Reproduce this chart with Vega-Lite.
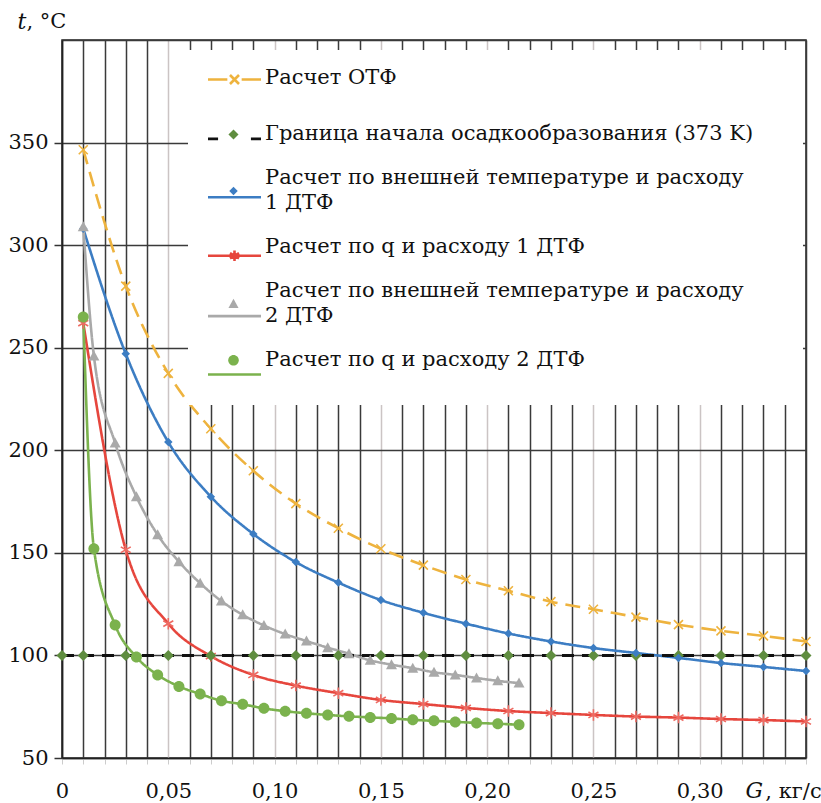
{
  "$schema": "https://vega.github.io/schema/vega-lite/v6.json",
  "width": 744,
  "height": 718,
  "autosize": {"type": "none"},
  "padding": {"left": 62, "top": 40, "right": 15, "bottom": 45},
  "background": "white",
  "config": {
    "view": {"stroke": "#222222", "strokeWidth": 1.5},
    "font": "DejaVu Serif"
  },
  "datasets": {
    "main": [
      {"s": "otf", "g": 0.01, "t": 346.5}, {"s": "otf", "g": 0.03, "t": 280}, {"s": "otf", "g": 0.05, "t": 237.5}, {"s": "otf", "g": 0.07, "t": 210.5}, {"s": "otf", "g": 0.09, "t": 190}, {"s": "otf", "g": 0.11, "t": 174}, {"s": "otf", "g": 0.13, "t": 162}, {"s": "otf", "g": 0.15, "t": 152}, {"s": "otf", "g": 0.17, "t": 144}, {"s": "otf", "g": 0.19, "t": 137}, {"s": "otf", "g": 0.21, "t": 131.5}, {"s": "otf", "g": 0.23, "t": 126.2}, {"s": "otf", "g": 0.25, "t": 122.5}, {"s": "otf", "g": 0.27, "t": 118.7}, {"s": "otf", "g": 0.29, "t": 115}, {"s": "otf", "g": 0.31, "t": 112}, {"s": "otf", "g": 0.33, "t": 109.5}, {"s": "otf", "g": 0.35, "t": 106.8},
      {"s": "border", "g": 0, "t": 100}, {"s": "border", "g": 0.01, "t": 100}, {"s": "border", "g": 0.03, "t": 100}, {"s": "border", "g": 0.05, "t": 100}, {"s": "border", "g": 0.07, "t": 100}, {"s": "border", "g": 0.09, "t": 100}, {"s": "border", "g": 0.11, "t": 100}, {"s": "border", "g": 0.13, "t": 100}, {"s": "border", "g": 0.15, "t": 100}, {"s": "border", "g": 0.17, "t": 100}, {"s": "border", "g": 0.19, "t": 100}, {"s": "border", "g": 0.21, "t": 100}, {"s": "border", "g": 0.23, "t": 100}, {"s": "border", "g": 0.25, "t": 100}, {"s": "border", "g": 0.27, "t": 100}, {"s": "border", "g": 0.29, "t": 100}, {"s": "border", "g": 0.31, "t": 100}, {"s": "border", "g": 0.33, "t": 100}, {"s": "border", "g": 0.35, "t": 100},
      {"s": "ext1", "g": 0.01, "t": 308}, {"s": "ext1", "g": 0.03, "t": 247}, {"s": "ext1", "g": 0.05, "t": 204}, {"s": "ext1", "g": 0.07, "t": 177.4}, {"s": "ext1", "g": 0.09, "t": 159.2}, {"s": "ext1", "g": 0.11, "t": 145.5}, {"s": "ext1", "g": 0.13, "t": 135.5}, {"s": "ext1", "g": 0.15, "t": 127}, {"s": "ext1", "g": 0.17, "t": 120.8}, {"s": "ext1", "g": 0.19, "t": 115.5}, {"s": "ext1", "g": 0.21, "t": 110.7}, {"s": "ext1", "g": 0.23, "t": 106.8}, {"s": "ext1", "g": 0.25, "t": 103.6}, {"s": "ext1", "g": 0.27, "t": 101.2}, {"s": "ext1", "g": 0.29, "t": 98.8}, {"s": "ext1", "g": 0.31, "t": 96.3}, {"s": "ext1", "g": 0.33, "t": 94.4}, {"s": "ext1", "g": 0.35, "t": 92.4},
      {"s": "q1", "g": 0.01, "t": 262}, {"s": "q1", "g": 0.03, "t": 151.5}, {"s": "q1", "g": 0.05, "t": 115.5}, {"s": "q1", "g": 0.07, "t": 99.7}, {"s": "q1", "g": 0.09, "t": 90.5}, {"s": "q1", "g": 0.11, "t": 85.3}, {"s": "q1", "g": 0.13, "t": 81.6}, {"s": "q1", "g": 0.15, "t": 78.3}, {"s": "q1", "g": 0.17, "t": 76.3}, {"s": "q1", "g": 0.19, "t": 74.4}, {"s": "q1", "g": 0.21, "t": 72.9}, {"s": "q1", "g": 0.23, "t": 71.9}, {"s": "q1", "g": 0.25, "t": 71}, {"s": "q1", "g": 0.27, "t": 70.2}, {"s": "q1", "g": 0.29, "t": 69.7}, {"s": "q1", "g": 0.31, "t": 69}, {"s": "q1", "g": 0.33, "t": 68.5}, {"s": "q1", "g": 0.35, "t": 67.8},
      {"s": "ext2", "g": 0.01, "t": 309}, {"s": "ext2", "g": 0.015, "t": 246}, {"s": "ext2", "g": 0.025, "t": 203.5}, {"s": "ext2", "g": 0.035, "t": 177.4}, {"s": "ext2", "g": 0.045, "t": 158.8}, {"s": "ext2", "g": 0.055, "t": 145.7}, {"s": "ext2", "g": 0.065, "t": 135.2}, {"s": "ext2", "g": 0.075, "t": 126.5}, {"s": "ext2", "g": 0.085, "t": 119.8}, {"s": "ext2", "g": 0.095, "t": 114.6}, {"s": "ext2", "g": 0.105, "t": 110.4}, {"s": "ext2", "g": 0.115, "t": 107}, {"s": "ext2", "g": 0.125, "t": 103.8}, {"s": "ext2", "g": 0.135, "t": 100.8}, {"s": "ext2", "g": 0.145, "t": 97.6}, {"s": "ext2", "g": 0.155, "t": 95.5}, {"s": "ext2", "g": 0.165, "t": 93.8}, {"s": "ext2", "g": 0.175, "t": 91.8}, {"s": "ext2", "g": 0.185, "t": 90.5}, {"s": "ext2", "g": 0.195, "t": 89}, {"s": "ext2", "g": 0.205, "t": 87.6}, {"s": "ext2", "g": 0.215, "t": 86.5},
      {"s": "q2", "g": 0.01, "t": 265}, {"s": "q2", "g": 0.015, "t": 152}, {"s": "q2", "g": 0.025, "t": 114.8}, {"s": "q2", "g": 0.035, "t": 99.2}, {"s": "q2", "g": 0.045, "t": 90.5}, {"s": "q2", "g": 0.055, "t": 84.9}, {"s": "q2", "g": 0.065, "t": 81.2}, {"s": "q2", "g": 0.075, "t": 77.9}, {"s": "q2", "g": 0.085, "t": 76.2}, {"s": "q2", "g": 0.095, "t": 74.2}, {"s": "q2", "g": 0.105, "t": 72.8}, {"s": "q2", "g": 0.115, "t": 71.8}, {"s": "q2", "g": 0.125, "t": 71}, {"s": "q2", "g": 0.135, "t": 70.3}, {"s": "q2", "g": 0.145, "t": 69.8}, {"s": "q2", "g": 0.155, "t": 69.3}, {"s": "q2", "g": 0.165, "t": 68.6}, {"s": "q2", "g": 0.175, "t": 68.1}, {"s": "q2", "g": 0.185, "t": 67.6}, {"s": "q2", "g": 0.195, "t": 67.1}, {"s": "q2", "g": 0.205, "t": 66.7}, {"s": "q2", "g": 0.215, "t": 66.2}
    ]
  },
  "encoding": {
    "x": {
      "field": "g", "type": "quantitative",
      "scale": {"domain": [0, 0.35], "nice": false, "zero": false},
      "axis": {
        "values": [0, 0.01, 0.02, 0.03, 0.04, 0.05, 0.06, 0.07, 0.08, 0.09, 0.1, 0.11, 0.12, 0.13, 0.14, 0.15, 0.16, 0.17, 0.18, 0.19, 0.2, 0.21, 0.22, 0.23, 0.24, 0.25, 0.26, 0.27, 0.28, 0.29, 0.3, 0.31, 0.32, 0.33, 0.34, 0.35],
        "grid": true,
        "gridColor": {"condition": {"test": "datum.value > 0.001 && datum.value < 0.34 && round(datum.value*100) % 5 === 0", "value": "#cbc4c4"}, "value": "#3a3a3a"},
        "gridWidth": 1.5,
        "domainColor": "#222222", "domainWidth": 1.5,
        "tickColor": "#cccccc", "tickSize": 6, "tickWidth": 1,
        "labelExpr": "round(datum.value*100) % 5 !== 0 ? '' : (datum.value > 0.34 ? ', кг/с' : (datum.value < 0.001 ? '0' : replace(format(datum.value, '.2f'), '.', ',')))",
        "labelOffset": {"condition": {"test": "datum.value > 0.34", "value": -13}, "value": 0},
        "labelFont": "DejaVu Serif", "labelFontSize": 21, "labelColor": "#111111",
        "labelBaseline": "alphabetic", "labelPadding": 33,
        "labelOverlap": false, "labelFlush": false, "labelBound": false,
        "title": "G", "titleFont": "DejaVu Serif", "titleFontStyle": "italic", "titleFontWeight": "normal", "titleFontSize": 22, "titleColor": "#111111",
        "titleX": 683, "titleY": 39, "titleAlign": "left", "titleBaseline": "alphabetic"
      }
    },
    "y": {
      "field": "t", "type": "quantitative",
      "scale": {"domain": [50, 400], "nice": false, "zero": false},
      "axis": {
        "values": [50, 100, 150, 200, 250, 300, 350, 400],
        "grid": true, "gridColor": "#3a3a3a", "gridWidth": 1.5,
        "domainColor": "#222222", "domainWidth": 1.5,
        "tickColor": {"condition": {"test": "datum.value === 400", "value": "transparent"}, "value": "#333333"},
        "tickSize": 8, "tickWidth": 1.5,
        "labelExpr": "datum.value === 400 ? ', °C' : datum.label",
        "labelAlign": {"condition": {"test": "datum.value === 400", "value": "left"}, "value": "right"},
        "labelPadding": {"condition": {"test": "datum.value === 400", "value": 28}, "value": 6},
        "labelOffset": {"condition": {"test": "datum.value === 400", "value": -19}, "value": 0},
        "labelBaseline": "middle",
        "labelFont": "DejaVu Serif", "labelFontSize": 21, "labelColor": "#111111",
        "labelOverlap": false, "labelFlush": false, "labelBound": false,
        "title": "t", "titleFont": "DejaVu Serif", "titleFontStyle": "italic", "titleFontWeight": "normal", "titleFontSize": 22, "titleColor": "#111111",
        "titleAngle": 0, "titleX": -45, "titleY": -19, "titleAlign": "left", "titleBaseline": "middle"
      }
    }
  },
  "layer": [
    {
      "data": {"name": "main"},
      "transform": [{"filter": "datum.s !== 'border'"}],
      "mark": {"type": "line", "interpolate": "monotone", "strokeWidth": 2.6},
      "encoding": {
        "stroke": {"field": "s", "type": "nominal", "legend": null,
          "scale": {"domain": ["otf", "ext1", "q1", "ext2", "q2"], "range": ["#EEB33E", "#3C7DC3", "#E6463D", "#A9A9A9", "#7BB24D"]}},
        "strokeDash": {"field": "s", "type": "nominal", "legend": null,
          "scale": {"domain": ["otf", "ext1", "q1", "ext2", "q2"], "range": [[15, 8], [1, 0], [1, 0], [1, 0], [1, 0]]}}
      }
    },
    {
      "data": {"name": "main"},
      "transform": [{"filter": "datum.s === 'border'"}],
      "mark": {"type": "line", "color": "#111111", "strokeWidth": 3, "strokeDash": [12, 8]},
      "encoding": {}
    },
    {
      "data": {"name": "main"},
      "transform": [{"filter": "datum.s === 'otf' || datum.s === 'q1'"}],
      "mark": {"type": "point", "filled": false, "size": 100, "strokeWidth": 1.6, "opacity": 1},
      "encoding": {
        "stroke": {"field": "s", "type": "nominal", "legend": null,
          "scale": {"domain": ["otf", "q1"], "range": ["#EEB33E", "#EE6A62"]}},
        "shape": {"field": "s", "type": "nominal", "legend": null,
          "scale": {"domain": ["otf", "q1"], "range": ["M-0.9,-0.9L0.9,0.9M-0.9,0.9L0.9,-0.9", "M0,-1.15V1.15M-1,-0.58L1,0.58M-1,0.58L1,-0.58"]}}
      }
    },
    {
      "data": {"name": "main"},
      "transform": [{"filter": "datum.s === 'border' || datum.s === 'ext1' || datum.s === 'ext2' || datum.s === 'q2'"}],
      "mark": {"type": "point", "filled": true, "size": 100, "opacity": 1},
      "encoding": {
        "fill": {"field": "s", "type": "nominal", "legend": null,
          "scale": {"domain": ["border", "ext1", "ext2", "q2"], "range": ["#5F8D3F", "#3C7DC3", "#A9A9A9", "#7BB24D"]}},
        "shape": {"field": "s", "type": "nominal", "legend": null,
          "scale": {"domain": ["border", "ext1", "ext2", "q2"], "range": ["M0,-1.1L1.1,0L0,1.1L-1.1,0Z", "M0,-0.85L0.85,0L0,0.85L-0.85,0Z", "M0,-1.1L1.1,0.9L-1.1,0.9Z", "M-1.1,0A1.1,1.1,0,1,1,1.1,0A1.1,1.1,0,1,1,-1.1,0Z"]}}
      }
    },
    {
      "data": {"values": []},
      "mark": {"type": "point", "filled": false, "opacity": 1},
      "encoding": {
        "stroke": {"field": "lg", "type": "nominal",
          "scale": {"domain": ["Расчет ОТФ", "Граница начала осадкообразования (373 K)", "Расчет по внешней температуре и расходу|1 ДТФ", "Расчет по q и расходу 1 ДТФ", "Расчет по внешней температуре и расходу|2 ДТФ", "Расчет по q и расходу 2 ДТФ"],
            "range": ["#EEB33E", "#111111", "#3C7DC3", "#E6463D", "#A9A9A9", "#7BB24D"]},
          "legend": {
            "orient": "none", "legendX": 126, "legendY": 10, "padding": 1.5,
            "fillColor": "white", "title": "\u00a0", "titleOrient": "left", "titleFontSize": 1, "titlePadding": 17,
            "symbolSize": 2809, "symbolStrokeWidth": 2.6, "symbolOpacity": 1,
            "labelFont": "DejaVu Serif", "labelFontSize": 18, "labelOffset": 539, "labelLimit": 2000,
            "labelExpr": "datum.index === 5 ? ['\u00a0', '\u00a0'] : '\u00a0'",
            "rowPadding": 21.4, "gridAlign": "each"
          }},
        "shape": {"field": "lg", "type": "nominal",
          "scale": {"domain": ["Расчет ОТФ", "Граница начала осадкообразования (373 K)", "Расчет по внешней температуре и расходу|1 ДТФ", "Расчет по q и расходу 1 ДТФ", "Расчет по внешней температуре и расходу|2 ДТФ", "Расчет по q и расходу 2 ДТФ"],
            "range": ["M-1,0H-0.27M0.27,0H1M-0.17,-0.17L0.17,0.17M-0.17,0.17L0.17,-0.17", "M-1,0H-0.62M0.62,0H1", "M-1,0H1", "M-1,0H1M0,-0.2V0.2M-0.17,-0.1L0.17,0.1M-0.17,0.1L0.17,-0.1", "M-1,0H1", "M-1,0H1"]}}
      }
    },
    {
      "data": {"values": []},
      "mark": {"type": "point", "filled": true, "opacity": 1},
      "encoding": {
        "fill": {"field": "lg", "type": "nominal",
          "scale": {"domain": ["Расчет ОТФ", "Граница начала осадкообразования (373 K)", "Расчет по внешней температуре и расходу|1 ДТФ", "Расчет по q и расходу 1 ДТФ", "Расчет по внешней температуре и расходу|2 ДТФ", "Расчет по q и расходу 2 ДТФ"],
            "range": ["#EEB33E", "#5F8D3F", "#3C7DC3", "#E6463D", "#A9A9A9", "#7BB24D"]},
          "legend": {
            "orient": "none", "legendX": 145, "legendY": 11.5, "padding": 0,
            "title": null,
            "symbolSize": 2809, "symbolStrokeWidth": 0, "symbolOpacity": 1,
            "labelFont": "DejaVu Serif", "labelFontSize": 21, "labelColor": "#111111", "labelOffset": 5, "labelLimit": 2000,
            "labelExpr": "split(datum.label, '|')",
            "rowPadding": 7.45, "gridAlign": "all",
            "encode": {"labels": {"update": {"lineHeight": {"value": 25}, "dy": {"signal": "length(split(datum.label, '|')) > 1 ? -12.5 : 0"}}}}
          }},
        "shape": {"field": "lg", "type": "nominal",
          "scale": {"domain": ["Расчет ОТФ", "Граница начала осадкообразования (373 K)", "Расчет по внешней температуре и расходу|1 ДТФ", "Расчет по q и расходу 1 ДТФ", "Расчет по внешней температуре и расходу|2 ДТФ", "Расчет по q и расходу 2 ДТФ"],
            "range": ["M0,0Z", "M0,-0.19L0.19,0L0,0.19L-0.19,0Z", "M0,-0.16L0.16,0L0,0.16L-0.16,0Z", "M0,0Z", "M0,-0.19L0.19,0.16L-0.19,0.16Z", "M-0.2,0A0.2,0.2,0,1,1,0.2,0A0.2,0.2,0,1,1,-0.2,0Z"]}}
      }
    }
  ],
  "resolve": {
    "scale": {"stroke": "independent", "fill": "independent", "shape": "independent", "strokeDash": "independent"},
    "legend": {"stroke": "independent", "fill": "independent", "shape": "independent"}
  }
}
